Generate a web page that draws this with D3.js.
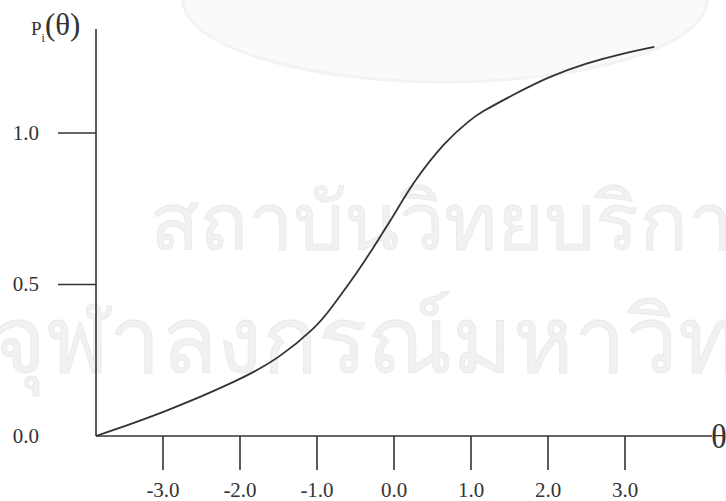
<!DOCTYPE html>
<html>
<head>
<meta charset="utf-8">
<script src="https://cdnjs.cloudflare.com/ajax/libs/d3/7.8.5/d3.min.js"></script>
<style>
  body { margin: 0; background: #fff; }
  svg { display: block; }
  text { font-family: "Liberation Serif", "Times New Roman", serif; fill: #333; }
</style>
</head>
<body>
<div id="my_dataviz"></div>
<script>
// curve: ability theta and probability P_i(theta)
var thetaValues = [-3.87, -3.0, -2.0, -1.5, -1.0, -0.84, -0.45, -0.15, 0.0, 0.24, 0.67, 1.0, 1.11, 1.54, 2.0, 2.5, 3.0, 3.38];
var probValues = [0.0, 0.076, 0.185, 0.255, 0.362, 0.414, 0.548, 0.670, 0.729, 0.835, 0.975, 1.045, 1.066, 1.125, 1.185, 1.231, 1.264, 1.284];

// tick labels
var xTicks = [-3, -2, -1, 0, 1, 2, 3];
var yTicks = [0.5, 1.0];
var yOriginLabel = "0.0";

// watermark lines of the scanned page
var watermark = ["สถาบันวิทยบริการ", "จุฬาลงกรณ์มหาวิทยาลัย"];

var width = 726, height = 501;

var svg = d3.select("#my_dataviz")
  .append("svg")
  .attr("width", width)
  .attr("height", height);

// scales
var x = d3.scaleLinear()
  .domain([-3, 3])
  .range([163, 625]);

var y = d3.scaleLinear()
  .domain([0, 1])
  .range([436, 133]);

var axisLeftX = x(-3.87),
  axisRightX = 712,
  axisTopY = 29;

var fmt = function (d) { return d.toFixed(1); };

// faint emblem arch + watermark behind everything
svg.append("ellipse")
  .attr("cx", 445).attr("cy", 0)
  .attr("rx", 262).attr("ry", 82)
  .attr("fill", "#fafafa")
  .attr("stroke", "#f3f3f3")
  .attr("stroke-width", 3);

svg.selectAll(".wm")
  .data(watermark)
  .enter()
  .append("text")
  .attr("class", "wm")
  .attr("x", function (d, i) { return i === 0 ? 150 : -8; })
  .attr("y", function (d, i) { return i === 0 ? 250 : 372; })
  .style("font-family", "'Noto Sans', 'DejaVu Sans', sans-serif")
  .style("font-size", function (d, i) { return i === 0 ? "81px" : "92px"; })
  .style("fill", "#f1f1f1")
  .style("stroke", "#e9e9e9")
  .style("stroke-width", 0.8)
  .text(function (d) { return d; });

var axisColor = "#333";

// y axis line
svg.append("line")
  .attr("x1", axisLeftX).attr("x2", axisLeftX)
  .attr("y1", axisTopY).attr("y2", y(0))
  .attr("stroke", axisColor)
  .attr("stroke-width", 1.6);

// x axis line
svg.append("line")
  .attr("x1", axisLeftX).attr("x2", axisRightX)
  .attr("y1", y(0)).attr("y2", y(0))
  .attr("stroke", axisColor)
  .attr("stroke-width", 1.6);

// y ticks stick out to the left
svg.selectAll(".ytick")
  .data(yTicks)
  .enter()
  .append("line")
  .attr("x1", axisLeftX - 38)
  .attr("x2", axisLeftX)
  .attr("y1", function (d) { return y(d); })
  .attr("y2", function (d) { return y(d); })
  .attr("stroke", axisColor)
  .attr("stroke-width", 1.6);

svg.selectAll(".ylab")
  .data([0].concat(yTicks))
  .enter()
  .append("text")
  .attr("x", 39)
  .attr("y", function (d) { return y(d); })
  .attr("dy", "0.33em")
  .attr("text-anchor", "end")
  .style("font-size", "21px")
  .text(function (d, i) { return i === 0 ? yOriginLabel : fmt(d); });

// x ticks hang below the axis
svg.selectAll(".xtick")
  .data(xTicks)
  .enter()
  .append("line")
  .attr("x1", function (d) { return x(d); })
  .attr("x2", function (d) { return x(d); })
  .attr("y1", y(0))
  .attr("y2", y(0) + 34)
  .attr("stroke", axisColor)
  .attr("stroke-width", 1.6);

svg.selectAll(".xlab")
  .data(xTicks)
  .enter()
  .append("text")
  .attr("x", function (d) { return x(d); })
  .attr("y", 497)
  .attr("text-anchor", "middle")
  .style("font-size", "21px")
  .text(function (d) { return fmt(d); });

// axis titles
var yTitle = svg.append("text")
  .attr("x", 31)
  .attr("y", 35);
yTitle.append("tspan").style("font-size", "19px").text("P");
yTitle.append("tspan").attr("dy", 7).style("font-size", "12px").text("i");
yTitle.append("tspan").attr("dy", -7).style("font-size", "31px").text("(θ)");

svg.append("text")
  .attr("x", 711)
  .attr("y", y(0))
  .attr("dy", "0.35em")
  .style("font-size", "33px")
  .text("θ");

// the item characteristic curve
var line = d3.line()
  .x(function (d) { return x(d[0]); })
  .y(function (d) { return y(d[1]); })
  .curve(d3.curveBasis);

svg.append("path")
  .datum(d3.zip(thetaValues, probValues))
  .attr("fill", "none")
  .attr("stroke", "#333")
  .attr("stroke-width", 1.8)
  .attr("d", line);
</script>
</body>
</html>
